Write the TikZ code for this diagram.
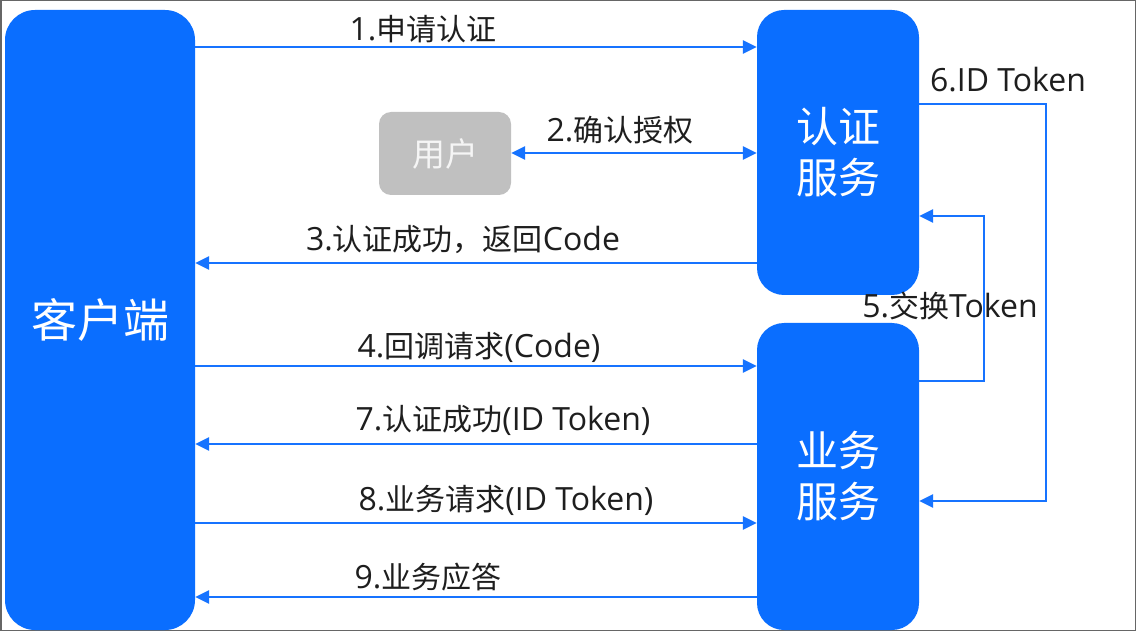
\documentclass[tikz,border=0pt]{standalone}
\usepackage{fontspec}
\setmainfont{Noto Sans CJK SC}
\newfontfamily\latf{Open Sans}
\newcommand\lt[1]{{\latf\fontsize{32}{34}\selectfont #1}}
\usetikzlibrary{arrows.meta}
\definecolor{boxblue}{RGB}{10,110,255}
\definecolor{lineblue}{RGB}{22,115,255}
\definecolor{usergray}{RGB}{192,192,192}
\definecolor{labelc}{RGB}{30,30,30}
\tikzset{
  bigbox/.style={fill=boxblue, draw=none, text=white, align=center, inner sep=0pt},
  arr/.style={draw=lineblue, line width=2.7pt, -{Triangle[length=14pt,width=13pt]}},
  darr/.style={draw=lineblue, line width=2.7pt, {Triangle[length=14pt,width=13pt]}-{Triangle[length=14pt,width=13pt]}},
  lbl/.style={text=labelc, font=\fontsize{30}{34}\selectfont, inner sep=0pt},
}
\begin{document}
\begin{tikzpicture}[x=1pt,y=-1pt]
\useasboundingbox (0,0) rectangle (1136,631);
\fill[white] (0,0) rectangle (1136,631);
\draw[gray!80!black, line width=1.5pt] (0.75,0.75) rectangle (1135.25,630.25);

\node[bigbox, rounded corners=30pt, minimum width=190pt, minimum height=620pt, font=\fontsize{46}{52}\selectfont] (client) at (100,320) {客户端};
\node[bigbox, rounded corners=27pt, minimum width=162pt, minimum height=285pt, font=\fontsize{42}{51}\selectfont] (auth) at (838,152.5) {认证\\服务};
\node[bigbox, rounded corners=27pt, minimum width=162pt, minimum height=307pt, font=\fontsize{42}{51}\selectfont] (biz) at (838,476.5) {业务\\服务};
\node[fill=usergray, rounded corners=12pt, minimum width=132pt, minimum height=83pt, text=white!96!black, font=\fontsize{33}{38}\selectfont, inner sep=0pt] (user) at (445,153.5) {用户};

\draw[arr] (client.east |- 0,47) -- (auth.west |- 0,47);
\draw[darr] (user.east |- 0,153) -- (auth.west |- 0,153);
\draw[arr] (auth.west |- 0,263) -- (client.east |- 0,263);
\draw[arr] (client.east |- 0,366) -- (biz.west |- 0,366);
\draw[arr] (biz.west |- 0,444) -- (client.east |- 0,444);
\draw[arr] (client.east |- 0,523) -- (biz.west |- 0,523);
\draw[arr] (biz.west |- 0,597) -- (client.east |- 0,597);

\coordinate (k5) at (984,216);
\coordinate (k6) at (1046,501);
\draw[arr] (biz.east |- 0,381) -| (k5) -- (auth.east |- k5);
\draw[arr] (auth.east |- 0,104) -| (k6) -- (biz.east |- k6);

\node[lbl] (l1) at (423,29) {\lt{1.}申请认证};
\node[lbl] (l2) at (620,130) {\lt{2.}确认授权};
\node[lbl] (l3) at (463,240) {\lt{3.}认证成功，返回\lt{Code}};
\node[lbl] (l4) at (479,347) {\lt{4.}回调请求\lt{(Code)}};
\node[lbl] (l5) at (950,306) {\lt{5.}交换\lt{Token}};
\node[lbl] (l6) at (1008,80) {\lt{6.ID Token}};
\node[lbl] (l7) at (503,420) {\lt{7.}认证成功\lt{(ID Token)}};
\node[lbl] (l8) at (506,500) {\lt{8.}业务请求\lt{(ID Token)}};
\node[lbl] (l9) at (428,577) {\lt{9.}业务应答};
\end{tikzpicture}
\end{document}
